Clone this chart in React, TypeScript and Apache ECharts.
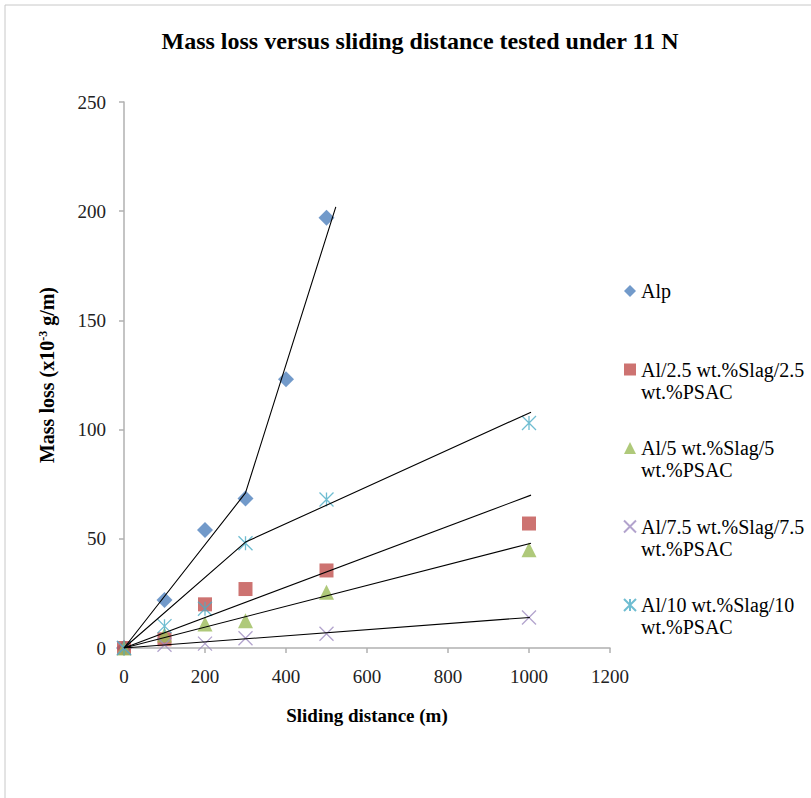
import React, { useEffect, useRef } from "react";
import * as echarts from "echarts";

// ---- Data ----
const distances = [0, 100, 200, 300, 400, 500];
const distances2 = [0, 100, 200, 300, 500, 1000];

const alpValues = [0, 22, 54, 68.5, 123, 197];
const al25Values = [0, 4, 20, 27, 35.5, 57];
const al5Values = [0, 6, 11, 12.5, 25.5, 45];
const al75Values = [0, 1.5, 2, 4.5, 6.5, 14];
const al10Values = [0, 10, 18, 48, 68, 103];

// trend lines (as drawn in the figure)
const alpTrend = [[0, 0], [300, 71], [523, 202]];
const al25Trend = [[0, 0], [1005, 70]];
const al5Trend = [[0, 0], [1005, 48]];
const al75Trend = [[0, 0], [1002, 14]];
const al10Trend = [[0, 0], [300, 48.5], [1005, 108]];

const seriesNames = [
  "Alp",
  "Al/2.5 wt.%Slag/2.5 wt.%PSAC",
  "Al/5 wt.%Slag/5 wt.%PSAC",
  "Al/7.5 wt.%Slag/7.5 wt.%PSAC",
  "Al/10 wt.%Slag/10 wt.%PSAC",
];
const legendLines: Record<string, string[]> = {
  "Alp": ["Alp"],
  "Al/2.5 wt.%Slag/2.5 wt.%PSAC": ["Al/2.5 wt.%Slag/2.5", "wt.%PSAC"],
  "Al/5 wt.%Slag/5 wt.%PSAC": ["Al/5 wt.%Slag/5", "wt.%PSAC"],
  "Al/7.5 wt.%Slag/7.5 wt.%PSAC": ["Al/7.5 wt.%Slag/7.5", "wt.%PSAC"],
  "Al/10 wt.%Slag/10 wt.%PSAC": ["Al/10 wt.%Slag/10", "wt.%PSAC"],
};

const titleText = "Mass loss versus sliding distance tested under 11 N";
const xAxisTitle = "Sliding distance (m)";

const pair = (xs: number[], ys: number[]) => xs.map((x, i) => [x, ys[i]]);

const FONT = "Liberation Serif";

export default function App() {
  const ref = useRef<HTMLDivElement>(null);
  useEffect(() => {
    if (!ref.current) return;
    const chart = echarts.init(ref.current, undefined, { renderer: "svg" });
    const trendStyle = { color: "#000", width: 1.1 };
    const trend = (name: string, data: number[][]) => ({
      name,
      type: "line",
      data,
      symbol: "none",
      silent: true,
      lineStyle: trendStyle,
      itemStyle: { color: "#000" },
      z: 5,
    });
    chart.setOption({
      animation: false,
      backgroundColor: "#fff",
      textStyle: { fontFamily: FONT },
      title: {
        text: titleText,
        left: 415,
        textAlign: "center",
        top: 24,
        textStyle: { fontFamily: FONT, fontWeight: "bold", fontSize: 24, color: "#000" },
      },
      graphic: [
        { type: "line", shape: { x1: 5, y1: 5, x2: 811, y2: 5 }, style: { stroke: "#c8c8c8", lineWidth: 1 } },
        { type: "line", shape: { x1: 5, y1: 5, x2: 5, y2: 798 }, style: { stroke: "#c8c8c8", lineWidth: 1 } },
      ],
      legend: {
        orient: "vertical",
        left: 623,
        top: 258,
        padding: 0,
        itemGap: 12.5,
        itemWidth: 12,
        itemHeight: 12,
        data: seriesNames,
        formatter: (name: string) => {
          const l = legendLines[name] || [name];
          return l.length === 1 ? "\n" + l[0] + "\n" : "\n" + l.join("\n");
        },
        textStyle: { fontFamily: FONT, fontSize: 20, lineHeight: 22, color: "#000" },
      },
      grid: { left: 124, right: 201, top: 102, bottom: 150, containLabel: false },
      xAxis: {
        type: "value",
        min: 0,
        max: 1200,
        interval: 200,
        name: xAxisTitle,
        nameLocation: "middle",
        nameGap: 58,
        nameTextStyle: { fontFamily: FONT, fontWeight: "bold", fontSize: 19, color: "#000" },
        axisLine: { show: true, lineStyle: { color: "#b0b0b0", width: 1.5 } },
        axisTick: { show: true, length: 5, lineStyle: { color: "#b0b0b0", width: 1.5 } },
        axisLabel: { margin: 19, fontFamily: FONT, fontSize: 19, color: "#222", formatter: (v: number) => String(v) },
        splitLine: { show: false },
      },
      yAxis: {
        type: "value",
        min: 0,
        max: 250,
        interval: 50,
        name: "Mass loss (x10{sup|-3} g/m)",
        nameLocation: "middle",
        nameGap: 67,
        nameRotate: 90,
        nameTextStyle: {
          fontFamily: FONT,
          fontWeight: "bold",
          fontSize: 20,
          color: "#000",
          rich: {
            sup: { fontFamily: FONT, fontWeight: "bold", fontSize: 12, color: "#000", verticalAlign: "top", padding: [0, 0, 6, 0] },
          },
        },
        axisLine: { show: true, lineStyle: { color: "#b0b0b0", width: 1.5 } },
        axisTick: { show: true, length: 5, lineStyle: { color: "#b0b0b0", width: 1.5 } },
        axisLabel: { margin: 18, fontFamily: FONT, fontSize: 19, color: "#222", formatter: (v: number) => String(v) },
        splitLine: { show: false },
      },
      series: [
        {
          name: seriesNames[0],
          type: "scatter",
          data: pair(distances, alpValues),
          symbol: "diamond",
          symbolSize: 16,
          itemStyle: { color: "#4F81BD" },
          z: 3,
        },
        {
          name: seriesNames[1],
          type: "scatter",
          data: pair(distances2, al25Values),
          symbol: "rect",
          symbolSize: 14,
          itemStyle: { color: "#C0504D" },
          z: 3,
        },
        {
          name: seriesNames[2],
          type: "scatter",
          data: pair(distances2, al5Values),
          symbol: "triangle",
          symbolSize: 15,
          itemStyle: { color: "#9BBB59" },
          z: 3,
        },
        {
          name: seriesNames[3],
          type: "scatter",
          data: pair(distances2, al75Values),
          symbol: "path://M0,0L10,10M10,0L0,10",
          symbolSize: 14,
          itemStyle: { color: "rgba(0,0,0,0)", borderColor: "#9F8CC0", borderWidth: 1.3 },
          z: 3,
        },
        {
          name: seriesNames[4],
          type: "scatter",
          data: pair(distances2, al10Values),
          symbol: "path://M0,0L10,10M10,0L0,10M5,0L5,10",
          symbolSize: 14,
          itemStyle: { color: "rgba(0,0,0,0)", borderColor: "#4BACC6", borderWidth: 1.3 },
          z: 3,
        },
        trend("Alp trend", alpTrend),
        trend("Al/2.5 trend", al25Trend),
        trend("Al/5 trend", al5Trend),
        trend("Al/7.5 trend", al75Trend),
        trend("Al/10 trend", al10Trend),
      ],
    });
    return () => chart.dispose();
  }, []);
  return <div ref={ref} style={{ width: 811, height: 798, position: "absolute", left: 0, top: 0 }} />;
}
